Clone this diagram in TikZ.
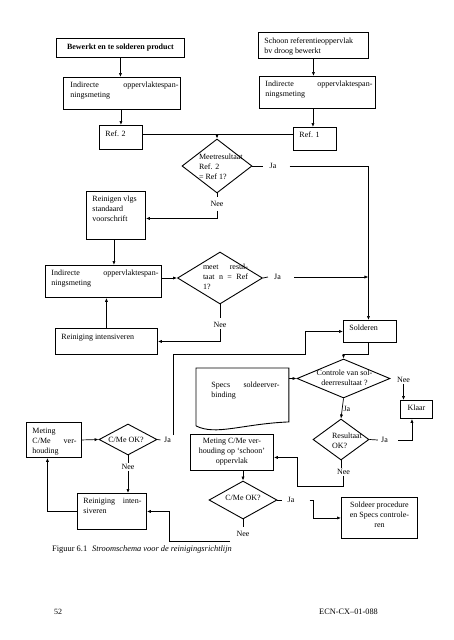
\documentclass[tikz,border=0pt]{standalone}
\usepackage{fontspec}
\setmainfont{Liberation Serif}
\usetikzlibrary{shapes.geometric,arrows.meta,calc}
\newcommand\bx[6]{\parbox[c][#2pt][t]{#1pt}{\vspace*{#3pt}\leftskip=#4pt\rightskip=#5pt\relax\strut #6}}
\begin{document}
\begin{tikzpicture}[x=1pt,y=-1pt,
  every node/.style={font=\fontsize{8}{10}\selectfont},
  box/.style={draw, line width=0.9pt, rectangle, inner sep=0pt, anchor=north west},
  diam/.style={draw, line width=0.9pt, diamond, inner sep=0pt},
  dlab/.style={inner sep=0pt, align=left},
  dlabc/.style={inner sep=0pt, align=center},
  lab/.style={inner sep=1pt},
  ln/.style={line width=0.7pt},
  arr/.style={line width=0.7pt, -{Latex[length=4pt,width=3.2pt]}}]
\useasboundingbox (0,0) rectangle (453,640);
\fill[white] (0,0) rectangle (453,640);

% boxes
\node[box] (b1) at (56,38) {\bx{128}{19}{4}{0}{0}{\centering\bfseries Bewerkt en te solderen product}};
\node[box] (b2) at (258,32) {\bx{110}{26}{4}{6}{0}{Schoon referentieoppervlak\\bv droog bewerkt}};
\node[box] (b3) at (63,77) {\bx{117}{32}{3.5}{7}{2}{Indirecte\hfill oppervlaktespan-\\ningsmeting}};
\node[box] (b4) at (259,76) {\bx{116}{32}{3.5}{6}{3}{Indirecte\hfill oppervlaktespan-\\ningsmeting}};
\node[box] (ref2) at (99,125) {\bx{43}{24}{4.5}{6}{0}{Ref. 2}};
\node[box] (ref1) at (293,127) {\bx{43}{23}{3.5}{6}{0}{Ref. 1}};
\node[box] (reinig) at (86,191) {\bx{59}{48}{3.5}{6}{0}{Reinigen vlgs\\standaard\\voorschrift}};
\node[box] (ind2) at (45,265) {\bx{116}{32}{3.5}{6}{3}{Indirecte\hfill oppervlaktespan-\\ningsmeting}};
\node[box] (rint1) at (55,328) {\bx{102}{26}{4.5}{6}{0}{Reiniging intensiveren}};
\node[box] (solder) at (343,320) {\bx{53}{22}{3.5}{6}{0}{Solderen}};
\node[box] (klaar) at (400,400) {\bx{32}{18}{3.5}{0}{0}{\centering Klaar}};
\node[box] (meting1) at (26,422) {\bx{55}{35}{4.5}{6}{5}{Meting\\C/Me\hfill ver-\\houding}};
\node[box] (meting2) at (190,434) {\bx{83}{36}{2.5}{0}{0}{\centering Meting C/Me ver-\\houding op ‘schoon’\\oppervlak}};
\node[box] (rint2) at (77,493) {\bx{69}{36}{3.5}{6}{5}{Reiniging\hfill inten-\\siveren}};
\node[box] (soldeer) at (341,497) {\bx{76}{41}{3.5}{0}{0}{\centering Soldeer procedure\\en Specs controle-\\ren}};
\node[box, draw=none] (specs) at (196,368) {\bx{92}{53}{12.5}{15}{9}{Specs\hfill soldeerver-\\binding}};
\draw[line width=0.9pt] ($(specs.south west)+(0,4)$) -- (specs.north west) -- (specs.north east) -- (specs.south east)
  .. controls ($(specs.south east)+(-47,2)$) and ($(specs.south west)+(20,14)$) .. ($(specs.south west)+(0,4)$);

% diamonds
\node[diam, minimum width=70pt, minimum height=54pt] (d1) at (217,166) {};
\node[dlab] (d1t) at ($(d1.center)+(3.8,1)$) {Meetresultaat\\Ref. 2\\= Ref 1?};
\node[diam, minimum width=85pt, minimum height=52pt] (d2) at (220,278) {};
\node[dlab, text width=45pt] (d2t) at ($(d2.center)+(5.5,-1)$) {meet\hfill resul-\\taat\hfill n\hfill =\hfill Ref\\1?};
\node[diam, minimum width=93pt, minimum height=39pt] (d3) at (343.5,378.5) {};
\node[dlabc] (d3t) at ($(d3.center)+(1,-0.5)$) {Controle van sol-\\deerresultaat ?};
\node[diam, minimum width=56pt, minimum height=41pt] (d4) at (341,439.5) {};
\node[dlab] (d4t) at ($(d4.center)+(6,1)$) {Resultaat\\OK?};
\node[diam, minimum width=68pt, minimum height=38pt] (d5) at (243,500) {};
\node[dlabc] (d5t) at ($(d5.center)+(0,-2)$) {C/Me OK?};
\node[diam, minimum width=58pt, minimum height=31pt] (d6) at (128,439.5) {};
\node[dlabc] (d6t) at ($(d6.center)+(-2,0)$) {C/Me OK?};

% Ja / Nee labels
\node[lab] (ja1) at (273,166) {Ja};
\node[lab] (ja2) at (277.5,277) {Ja};
\node[lab] (ja4) at (384.5,440) {Ja};
\node[lab] (ja5) at (291,500) {Ja};
\node[lab] (ja6) at (167.5,440) {Ja};
\node[lab] (nee1) at (217,204) {Nee};
\node[lab] (nee2) at (220,325) {Nee};
\node[lab] (nee3) at (403.5,380) {Nee};
\node[lab] (nee4) at (343.5,472) {Nee};
\node[lab] (nee5) at (243,534) {Nee};
\node[lab] (nee6) at (128,467) {Nee};

% connectors
\draw[arr] (b1.south) -- (b1.south |- b3.north);
\draw[arr] (b2.south) -- (b2.south |- b4.north);
\draw[arr] (ref2.north |- b3.south) -- (ref2.north);
\coordinate (r1n) at ($(ref1.north)+(-2,0)$);
\draw[arr] (r1n |- b4.south) -- (r1n);
\coordinate (r2e) at ($(ref2.east)+(0,-3)$);
\draw[ln] (r2e) -- (r2e -| ref1.west);
\draw[arr] (r2e -| d1.north) -- (d1.north);

\coordinate (sn) at ($(solder.north)+(-1.5,0)$);
\draw[ln] (d1.east) -- ($(ja1.west)+(-5,0)$);
\draw[arr] ($(ja1.east)+(12,0)$) -| (sn);
\draw[ln] (d1.south) -- ($(nee1.north)+(0,-3)$);
\draw[arr] ($(nee1.south)+(0,3)$) |- ($(reinig.east)+(0,3)$);

\coordinate (rs) at ($(reinig.south)+(-2,0)$);
\draw[arr] (rs) -- (rs |- ind2.north);
\draw[arr] (ind2.east |- d2.west) -- (d2.west);
\draw[ln] (d2.east) -- ($(ja2.west)+(-5,0)$);
\coordinate (ja2o) at ($(ja2.east)+(12,0)$);
\draw[arr] (ja2o) -- (ja2o -| sn);
\draw[ln] (d2.south) -- ($(nee2.north)+(0,-3)$);
\draw[arr] (nee2.south) |- (rint1.east);
\draw[arr] (rint1.north) -- (rint1.north |- ind2.south);

\coordinate (c13) at (305,354);
\draw[arr] ($(ja6.north east)+(1,-1)$) |- (c13) |- (solder.west);
\draw[ln] (d6.east) -- ($(ja6.west)+(-2.5,0)$);

\coordinate (ss) at ($(solder.south)+(-1.5,0)$);
\coordinate (c14) at ($(solder.south)+(-1.5,11)$);
\draw[arr] (ss) -- (c14) -| (d3.north);
\draw[arr] (specs.east |- d3.west) -- (d3.west);
\draw[arr] (nee3.south) -- (nee3.south |- klaar.north);
\draw[arr] (d3.south) -- node[lab, anchor=west, pos=0.5] (ja3) {Ja} (d4.north);

\draw[ln] (d4.east) -- ($(ja4.west)+(-2,0)$);
\coordinate (ja4o) at ($(ja4.east)+(9,0)$);
\coordinate (ks) at ($(klaar.south)+(-4.5,0)$);
\draw[arr] (ja4o) -| (ks);
\draw[ln] (d4.south) -- (d4.south |- nee4.north);
\coordinate (c19) at (297,486);
\coordinate (m2e) at ($(meting2.east)+(0,5)$);
\draw[arr] (nee4.south) |- (c19) |- (m2e);

\draw[arr] (d5.north |- meting2.south) -- (d5.north);
\draw[ln] (d5.east) -- ($(ja5.west)+(-4,0)$);
\coordinate (ja5o) at ($(ja5.east)+(14,0)$);
\coordinate (c21) at (313,500);
\draw[arr] (ja5o) -- (c21) |- (soldeer.west);
\draw[ln] (d5.south) -- ($(nee5.north)+(0,-3)$);
\coordinate (c22) at (230,541);
\coordinate (c22b) at (169,541);
\draw[arr] (c22) -- (c22b) |- (rint2.east);

\draw[ln] (d6.south) -- (nee6.north);
\draw[arr] (nee6.south) -- (nee6.south |- rint2.north);
\coordinate (m1s) at ($(meting1.south)+(-6.5,0)$);
\draw[arr] (rint2.west) -| (m1s);
\draw[arr] (meting1.east) -- (d6.west);

% caption and footer
\node[anchor=base west, inner sep=0pt, font=\fontsize{8.4}{10}\selectfont] (cap) at (52,551) {Figuur 6.1\hspace{5pt}\textit{Stroomschema voor de reinigingsrichtlijn}};
\node[anchor=base west, inner sep=0pt] (pg) at (54,614) {52};
\node[anchor=base east, inner sep=0pt, font=\fontsize{8.3}{10}\selectfont] (rep) at (378,614) {ECN-CX--01-088};
\end{tikzpicture}
\end{document}
